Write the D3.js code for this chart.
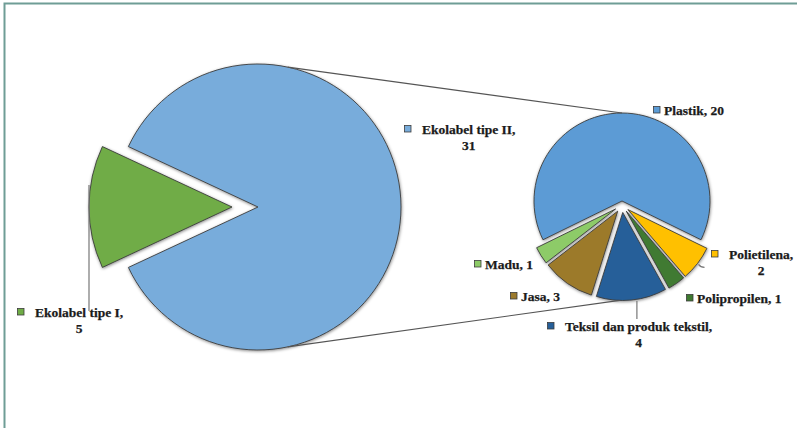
<!DOCTYPE html>
<html>
<head>
<meta charset="utf-8">
<script src="https://cdn.jsdelivr.net/npm/d3@7"></script>
<style>
  html, body { margin: 0; padding: 0; background: #fff; }
  svg { display: block; }
  text { font-family: "Liberation Serif", "Times New Roman", serif; font-weight: bold; font-size: 13.5px; fill: #1b1b1b; stroke: #1b1b1b; stroke-width: 0.25px; }
</style>
</head>
<body>
<svg id="chart" width="797" height="428"></svg>
<script>
// Eco-label counts: primary pie and the breakdown of "Ekolabel tipe II"
const mainCategories = ["Ekolabel tipe II", "Ekolabel tipe I"];
const mainValues = [31, 5];
const subCategories = ["Plastik", "Polietilena", "Polipropilen", "Teksil dan produk tekstil", "Jasa", "Madu"];
const subValues = [20, 2, 1, 4, 3, 1];
const mainColors = ["#78acdb", "#6fac46"];
const subColors = ["#5b9bd5", "#ffc000", "#3f7a30", "#265f99", "#9c7a2c", "#8dcb67"];

const svg = d3.select("#chart");
const deg = Math.PI / 180;

// frame
svg.append("path")
  .attr("d", "M4.5,428 V3.5 H797")
  .attr("fill", "none")
  .attr("stroke", "#6f9d96")
  .attr("stroke-width", 2);

// soft shadow under the slices
const defs = svg.append("defs");
const f = defs.append("filter").attr("id", "shadow")
  .attr("x", "-10%").attr("y", "-10%").attr("width", "120%").attr("height", "120%");
f.append("feDropShadow").attr("dx", 0.5).attr("dy", 1).attr("stdDeviation", 1.6)
  .attr("flood-color", "#000").attr("flood-opacity", 0.45);

// ---------- primary pie ----------
const main = { cx: 258, cy: 207, r: 143, explode: 26 };
const mainTotal = d3.sum(mainValues);
// rotate so the small slice points straight to the left
const mainStart = 1.5 * Math.PI - (mainTotal - mainValues[1] / 2) / mainTotal * 2 * Math.PI;
const mainPie = d3.pie().sort(null).value(d => d)
  .startAngle(mainStart).endAngle(mainStart + 2 * Math.PI);
const mainArcs = mainPie(mainValues);
const mainArc = d3.arc().innerRadius(0).outerRadius(main.r);

const gMain = svg.append("g").attr("filter", "url(#shadow)");
mainArcs.forEach((a, i) => {
  const mid = (a.startAngle + a.endAngle) / 2;
  const e = i === 1 ? main.explode : 0;
  const dx = main.cx + e * Math.sin(mid), dy = main.cy - e * Math.cos(mid);
  gMain.append("path")
    .attr("transform", `translate(${dx},${dy})`)
    .attr("d", mainArc(a))
    .attr("fill", mainColors[i])
    .attr("stroke", "#3c3c3c")
    .attr("stroke-width", 0.9)
    .attr("stroke-linejoin", "miter");
});

// ---------- secondary pie ----------
const sub = { cx: 622, cy: 201, r: 88, shift: 4, explode: 7.5 };
const subTotal = d3.sum(subValues);
const subStart = -(subValues[0] / subTotal) * Math.PI;
const subPie = d3.pie().sort(null).value(d => d)
  .startAngle(subStart).endAngle(subStart + 2 * Math.PI);
const subArcs = subPie(subValues);
const subArc = d3.arc().innerRadius(0).outerRadius(sub.r);
const subCenters = subArcs.map((a, i) => {
  if (i === 0) return [sub.cx, sub.cy];
  const mid = (a.startAngle + a.endAngle) / 2;
  return [sub.cx + sub.explode * Math.sin(mid),
          sub.cy + sub.shift - sub.explode * Math.cos(mid)];
});

const gSub = svg.append("g").attr("filter", "url(#shadow)");
subArcs.forEach((a, i) => {
  gSub.append("path")
    .attr("transform", `translate(${subCenters[i][0]},${subCenters[i][1]})`)
    .attr("d", subArc(a))
    .attr("fill", subColors[i])
    .attr("stroke", "#3c3c3c")
    .attr("stroke-width", 0.9);
});

// ---------- connector lines ----------
const pointOn = (c, r, ang) => [c[0] + r * Math.sin(ang), c[1] - r * Math.cos(ang)];
const topA = pointOn([main.cx, main.cy], main.r, 12 * deg);
const botA = pointOn([main.cx, main.cy], main.r, 168 * deg);
const topB = pointOn(subCenters[0], sub.r, 0);
const botB = pointOn(subCenters[3], sub.r, 182 * deg);
svg.append("g").selectAll("line").data([[topA, topB], [botA, botB]]).join("line")
  .attr("x1", d => d[0][0]).attr("y1", d => d[0][1])
  .attr("x2", d => d[1][0]).attr("y2", d => d[1][1])
  .attr("stroke", "#555").attr("stroke-width", 1.1);

// ---------- leader lines ----------
const leaders = svg.append("g").attr("fill", "none").attr("stroke", "#777").attr("stroke-width", 1.2);
// Ekolabel tipe I: from the outer arc straight down to the label
const g1 = mainArcs[1];
const g1mid = (g1.startAngle + g1.endAngle) / 2;
const g1c = [main.cx + main.explode * Math.sin(g1mid), main.cy - main.explode * Math.cos(g1mid)];
const g1p = pointOn(g1c, main.r, g1mid);
leaders.append("path").attr("d", `M${g1p[0]},${g1p[1] - 22} V311`);
// Teksil: short vertical tick below the slice
const t1 = pointOn(subCenters[3], sub.r, (subArcs[3].startAngle + subArcs[3].endAngle) / 2 + 0.5 * deg);
leaders.append("path").attr("d", `M${t1[0] + 6},${t1[1] + 1} V319`);
// Polietilena: small hook to its label
const p1 = pointOn(subCenters[1], sub.r, (subArcs[1].startAngle + subArcs[1].endAngle) / 2);
leaders.append("path").attr("d", `M${p1[0] + 1},${p1[1] + 1} q2,3 6,3`);

// ---------- data labels ----------
const labelLayout = [
  { set: "main", i: 0, x: 404, y: 134, lines: [mainCategories[0] + ",", String(mainValues[0])] },
  { set: "main", i: 1, x: 17,  y: 317, lines: [mainCategories[1] + ",", String(mainValues[1])] },
  { set: "sub", i: 0, x: 653, y: 115, lines: [subCategories[0] + ", " + subValues[0]] },
  { set: "sub", i: 1, x: 711, y: 259, lines: [subCategories[1] + ",", String(subValues[1])] },
  { set: "sub", i: 2, x: 686, y: 303, lines: [subCategories[2] + ", " + subValues[2]] },
  { set: "sub", i: 3, x: 547, y: 331, lines: [subCategories[3] + ",", String(subValues[3])] },
  { set: "sub", i: 4, x: 510, y: 301, lines: [subCategories[4] + ", " + subValues[4]] },
  { set: "sub", i: 5, x: 474, y: 269, lines: [subCategories[5] + ", " + subValues[5]] }
];

const gLab = svg.append("g");
labelLayout.forEach(L => {
  const color = L.set === "main" ? mainColors[L.i] : subColors[L.i];
  const gap = L.lines.length > 1 ? 11 : 4;
  gLab.append("rect")
    .attr("x", L.x + 0.5).attr("y", L.y - 8.5)
    .attr("width", 6.5).attr("height", 6.5)
    .attr("fill", color).attr("stroke", "#3c3c3c").attr("stroke-width", 0.8);
  const t0 = gLab.append("text").attr("x", L.x + 7 + gap).attr("y", L.y).text(L.lines[0]);
  if (L.lines.length > 1) {
    const w = t0.node().getComputedTextLength();
    gLab.append("text")
      .attr("x", L.x + 7 + gap + w / 2).attr("y", L.y + 16)
      .attr("text-anchor", "middle").text(L.lines[1]);
  }
});
</script>
</body>
</html>
